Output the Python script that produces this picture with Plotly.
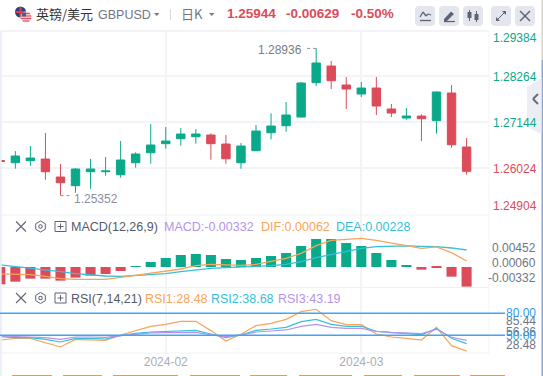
import plotly.graph_objects as go

W, H = 543, 376
idx = list(range(32))
opens = [1.26207,1.26153,1.26202,1.26243,1.25805,1.25593,1.25934,1.25934,1.25861,1.26153,1.26396,1.26616,1.26737,1.26786,1.26827,1.26608,1.26153,1.26445,1.26883,1.27054,1.27266,1.28101,1.28507,1.28045,1.27826,1.27972,1.27461,1.27241,1.27290,1.27176,1.27850,1.26535]
highs = [1.26267,1.26438,1.26560,1.26876,1.26121,1.26024,1.26243,1.26292,1.26681,1.26406,1.27095,1.27022,1.26998,1.26974,1.26869,1.26827,1.26633,1.27071,1.27356,1.27631,1.28118,1.28936,1.28629,1.28240,1.28118,1.28240,1.27582,1.27485,1.27331,1.27887,1.28045,1.26754]
lows = [1.26097,1.26007,1.26080,1.25739,1.25352,1.25423,1.25520,1.25836,1.25788,1.26031,1.26129,1.26494,1.26567,1.26616,1.26226,1.26129,1.26007,1.26438,1.26723,1.26908,1.27249,1.28021,1.27947,1.27461,1.27753,1.27314,1.27266,1.27200,1.26681,1.26859,1.26518,1.25861]
closes = [1.26182,1.26316,1.26267,1.25934,1.25666,1.26000,1.26000,1.25951,1.26219,1.26365,1.26584,1.26681,1.26852,1.26852,1.26616,1.26250,1.26560,1.26925,1.27047,1.27314,1.28094,1.28581,1.28150,1.27947,1.27972,1.27534,1.27363,1.27290,1.27224,1.27874,1.26591,1.25944]
hist = [-.00293,-.00248,-.00197,-.00197,-.00231,-.00180,-.00146,-.00118,-.00068,.00008,.00084,.00152,.00203,.00220,.00203,.00135,.00118,.00152,.00186,.00236,.00355,.00473,.00473,.00405,.00355,.00236,.00118,.00017,-.00045,-.00011,-.00163,-.00332]
dif = [-.00118,-.00124,-.00129,-.00158,-.00197,-.00208,-.00208,-.00208,-.00175,-.00141,-.00107,-.00079,-.00034,.00023,.00045,.00034,.00028,.00045,.00090,.00146,.00231,.00360,.00450,.00473,.00484,.00450,.00400,.00360,.00315,.00338,.00242,.00101]
dea = [.00034,.00006,-.00011,-.00039,-.00079,-.00113,-.00135,-.00152,-.00158,-.00146,-.00129,-.00113,-.00079,-.00051,-.00023,-.00011,0,.00006,.00023,.00045,.00090,.00158,.00214,.00270,.00315,.00343,.00355,.00355,.00349,.00343,.00321,.00287]
rsi1 = [43.6,45.9,45.9,40.0,34.1,44.5,44.1,43.2,50.5,56.4,62.3,65.0,69.1,69.1,56.4,42.3,51.4,63.2,66.4,71.8,82.3,85.5,70.0,64.5,64.5,51.8,47.7,45.9,43.6,60.9,35.9,28.48]
rsi2 = [48.2,46.8,46.8,44.5,40.9,45.9,45.9,45.0,49.5,52.7,54.5,55.5,56.8,56.8,51.8,46.8,50.5,56.8,58.6,60.9,68.6,71.8,65.0,62.3,62.3,55.5,53.6,52.7,50.5,59.5,45.9,38.68]
rsi3 = [49.1,48.2,48.2,46.8,44.5,47.7,47.7,47.3,49.5,51.4,53.2,53.6,54.1,54.1,50.5,48.2,50.5,54.5,55.9,57.3,62.3,65.0,60.9,59.5,59.5,55.5,54.1,53.6,52.3,58.2,47.3,43.19]
date_ticks = [11, 24]
date_labels = ["2024-02", "2024-03"]
price_grid = [1.28264, 1.27144, 1.26024]

GREEN, RED = "#0aa98a", "#dc4b59"
ORANGE, CYAN, PURPLE, BLUE = "#f5a55c", "#35bfd9", "#b294ea", "#3ea6f5"
GRAY, GLYPH, BTN, GRID = "#6f7585", "#5f6475", "#e4e6ee", "#f3f4f7"
FONT = "Liberation Sans, Arial, sans-serif"
CJK = "Noto Sans CJK SC, sans-serif"

def fx(p): return p / W
def fy(p): return 1 - p / H

fig = go.Figure()
fig.add_trace(go.Candlestick(x=idx, open=opens, high=highs, low=lows, close=closes, whiskerwidth=0,
    increasing=dict(line=dict(color=GREEN, width=1), fillcolor=GREEN),
    decreasing=dict(line=dict(color=RED, width=1), fillcolor=RED),
    xaxis="x", yaxis="y", hoverinfo="skip"))
fig.add_trace(go.Bar(x=idx, y=hist, marker=dict(color=[GREEN if v > 0 else RED for v in hist], line=dict(width=0)),
    xaxis="x", yaxis="y2", hoverinfo="skip"))
for vals, c in ((dea, CYAN), (dif, ORANGE)):
    fig.add_trace(go.Scatter(x=idx, y=vals, mode="lines", line=dict(color=c, width=1.3), xaxis="x", yaxis="y2", hoverinfo="skip"))
for vals, c in ((rsi1, ORANGE), (rsi2, CYAN), (rsi3, PURPLE)):
    fig.add_trace(go.Scatter(x=idx, y=vals, mode="lines", line=dict(color=c, width=1.2), xaxis="x", yaxis="y3", hoverinfo="skip"))

shapes, annos = [], []
def line(x0, y0, x1, y1, c=GLYPH, w=1, dash=None):
    shapes.append(dict(type="line", xref="paper", yref="paper", x0=fx(x0), x1=fx(x1), y0=fy(y0), y1=fy(y1),
                       line=dict(color=c, width=w, dash=dash or "solid")))
def rect(x0, y0, x1, y1, c):
    shapes.append(dict(type="rect", xref="paper", yref="paper", x0=fx(x0), x1=fx(x1), y0=fy(y0), y1=fy(y1),
                       fillcolor=c, line=dict(width=0)))
def poly(pts, c):
    d = "M" + " L".join(f"{fx(a):.5f},{fy(b):.5f}" for a, b in pts) + " Z"
    shapes.append(dict(type="path", xref="paper", yref="paper", path=d, fillcolor=c, line=dict(width=0)))
def circle(cx, cy, r, c):
    shapes.append(dict(type="circle", xref="paper", yref="paper", x0=fx(cx-r), x1=fx(cx+r), y0=fy(cy-r), y1=fy(cy+r),
                       fillcolor=c, line=dict(width=0)))
def text(x, y, s, c, size=12, anchor="left", bold=False, fam=FONT):
    annos.append(dict(xref="paper", yref="paper", x=fx(x), y=fy(y), text=f"<b>{s}</b>" if bold else s, showarrow=False,
                      xanchor=anchor, yanchor="middle", xshift=0, borderpad=0,
                      font=dict(family=fam, size=size, color=c)))

# frame
line(0, 31, 489, 31, "#f0f1f5", 1.5)
line(0, 215, 489, 215, "#eef0f4", 1)
line(0, 287.5, 489, 287.5, "#eef0f4", 1)
line(0, 353, 489, 353, "#eef0f4", 1)
line(489, 31, 489, 353, "#f3f4f7", 1)
rect(0, 31, 1.7, H, "#e9edf5")
rect(541.5, 0, 543, 60, "#d9d2c8")
rect(541.5, 60, 543, H, "#8ea6cc")

# collapse tab
poly([(527, 87), (541.5, 78), (541.5, 134), (527, 127)], "#eceef3")
line(538, 94, 533, 99, "#666c7a", 2)
line(533, 99, 538, 104, "#666c7a", 2)

# footer strip
for a, b in [(12,52),(63,102),(113,178),(190,240),(250,287),(299,352),(364,402),(414,460),(470,505)]:
    rect(a, 375, b, 376, "#dca23c")

# flag icon
circle(20.5, 12, 5.5, "#2f3f7c")
line(15.5, 12, 25.5, 12, "#d8404c", 2)
line(20.5, 7, 20.5, 17, "#d8404c", 2)
circle(26, 17, 5.5, "#f4c6ca")
for yy, half in ((13.5, 3.8), (16, 5.2), (18.5, 5.2), (21, 3.2)):
    line(26 - half, yy, 26 + half, yy, "#e0505c", 1)
rect(22, 12.5, 26, 16.5, "#4c5a94")

# header
text(35, 13.5, "英镑/美元", "#333333", 13, fam=CJK)
text(97, 14.5, "GBPUSD", GRAY, 12.5)
poly([(154, 13), (159.5, 13), (156.7, 16)], "#777c8a")
line(170.5, 9, 170.5, 20, "#d5d8e0", 1)
text(180, 13.5, "日K", GRAY, 13, fam=CJK)
poly([(209, 13), (214.5, 13), (211.7, 16)], "#777c8a")
text(226, 13.5, "1.25944", RED, 13.5, bold=True)
text(285, 13.5, "-0.00629", RED, 13.5, bold=True)
text(350, 13.5, "-0.50%", RED, 13.5, bold=True)

# toolbar buttons
for x0 in (415, 439, 463, 491, 515):
    x1, r = x0 + 20, 4
    y0, y1 = 6, 26
    shapes.append(dict(type="path", xref="paper", yref="paper", fillcolor=BTN, line=dict(width=0),
        path=(f"M{fx(x0+r)},{fy(y0)} L{fx(x1-r)},{fy(y0)} Q{fx(x1)},{fy(y0)} {fx(x1)},{fy(y0+r)} "
              f"L{fx(x1)},{fy(y1-r)} Q{fx(x1)},{fy(y1)} {fx(x1-r)},{fy(y1)} L{fx(x0+r)},{fy(y1)} "
              f"Q{fx(x0)},{fy(y1)} {fx(x0)},{fy(y1-r)} L{fx(x0)},{fy(y0+r)} Q{fx(x0)},{fy(y0)} {fx(x0+r)},{fy(y0)} Z")))
for a, b in (((420, 17), (423, 12)), ((423, 12), (426, 16)), ((426, 16), (428, 14)), ((428, 14), (431, 15))):
    line(*a, *b, GLYPH, 1.3)
line(420, 20.5, 431, 20.5, GLYPH, 1.3)
poly([(444, 19), (451, 11.5), (454, 14), (447, 21), (444, 21)], GLYPH)
line(444, 21.5, 455, 21.5, GLYPH, 1.3)
line(469.5, 10, 469.5, 21, GLYPH, 1); rect(467.5, 12, 471.5, 18, GLYPH)
line(476.5, 11, 476.5, 22, GLYPH, 1); rect(474.5, 14, 478.5, 20, GLYPH)
line(496.5, 20.5, 505.5, 11.5, GLYPH, 1)
poly([(502, 11), (506, 11), (506, 15)], GLYPH)
poly([(496, 17), (496, 21), (500, 21)], GLYPH)
line(520, 11, 530, 21, GLYPH, 1.4)
line(530, 11, 520, 21, GLYPH, 1.4)

# indicator header icons
for cy in (226.5, 298):
    line(16, cy-5, 26, cy+5, GLYPH, 1.1); line(26, cy-5, 16, cy+5, GLYPH, 1.1)
    pts = [(40.5, cy-5.5), (45.3, cy-2.7), (45.3, cy+2.7), (40.5, cy+5.5), (35.7, cy+2.7), (35.7, cy-2.7), (40.5, cy-5.5)]
    for p, q in zip(pts, pts[1:]):
        line(*p, *q, GLYPH, 1)
    circle(40.5, cy, 2.2, GLYPH); circle(40.5, cy, 1.2, "#ffffff")
    for p, q in (((55, cy-5), (66, cy-5)), ((66, cy-5), (66, cy+5)), ((66, cy+5), (55, cy+5)), ((55, cy+5), (55, cy-5)),
                 ((57.5, cy), (63.5, cy)), ((60.5, cy-3), (60.5, cy+3))):
        line(*p, *q, GLYPH, 1)
text(70, 226.5, "MACD(12,26,9)", "#555a68", 12.5)
text(163, 226.5, "MACD:-0.00332", PURPLE, 12.5)
text(260, 226.5, "DIF:0.00062", ORANGE, 12.5)
text(335, 226.5, "DEA:0.00228", CYAN, 12.5)
text(70, 298.5, "RSI(7,14,21)", "#555a68", 12.5)
text(144, 298.5, "RSI1:28.48", ORANGE, 12.5)
text(210, 298.5, "RSI2:38.68", CYAN, 12.5)
text(277, 298.5, "RSI3:43.19", PURPLE, 12.5)

# right-hand labels
for y, s, c in ((38.3, "1.29384", GREEN), (77, "1.28264", GREEN), (123, "1.27144", GREEN), (169, "1.26024", RED), (205.7, "1.24904", RED)):
    text(538, y, s, c, 12, "right")
for y, s in ((248.3, "0.00452"), (263.3, "0.00060"), (278.3, "-0.00332")):
    text(537, y, s, GRAY, 12, "right")
for y, s in ((321, "85.44"), (331.7, "56.86"), (344.5, "28.48")):
    text(537, y, s, GRAY, 12, "right")
for y, s in ((313.3, "80.00"), (335.8, "50.00")):
    text(537, y, s, "#2f9bef", 12, "right")
for v in (80, 50):
    shapes.append(dict(type="line", xref="paper", yref="y3", x0=0, x1=fx(505), y0=v, y1=v, line=dict(color=BLUE, width=1.5)))

# high/low callouts
shapes.append(dict(type="line", xref="x", yref="y", x0=20.4, x1=21, y0=highs[21], y1=highs[21], line=dict(color="#8a8f9c", width=1, dash="dot")))
shapes.append(dict(type="line", xref="x", yref="y", x0=4, x1=4.7, y0=lows[4], y1=lows[4], line=dict(color="#8a8f9c", width=1, dash="dot")))
text(303, 50.5, "1.28936", "#777b88", 12, "right")
text(73, 198.7, "1.25352", "#8a8f9c", 12)

fig.update_layout(
    width=W, height=H, autosize=False, margin=dict(l=0, r=0, t=0, b=0), showlegend=False,
    paper_bgcolor="#ffffff", plot_bgcolor="#ffffff", bargap=0.33, boxgap=0.2,
    shapes=shapes, annotations=annos,
    xaxis=dict(domain=[0, fx(489)], range=[-0.02, 32.49], anchor="y3", rangeslider=dict(visible=False),
               tickmode="array", tickvals=date_ticks, ticktext=date_labels, showgrid=True, gridcolor=GRID, gridwidth=1.5,
               zeroline=False, showline=False, ticks="", tickfont=dict(family=FONT, size=12, color="#a9adb8")),
    yaxis=dict(domain=[fy(215), fy(31)], range=[1.24880, 1.29360], tickmode="array", tickvals=price_grid, showticklabels=False,
               showgrid=True, gridcolor=GRID, gridwidth=1.5, zeroline=False, ticks=""),
    yaxis2=dict(domain=[fy(287), fy(215)], range=[-.00338, .00878], showticklabels=False, showgrid=False, zeroline=False, ticks=""),
    yaxis3=dict(domain=[fy(353), fy(288)], range=[25.9, 114.5], showticklabels=False, showgrid=False, zeroline=False, ticks=""),
)
fig.write_html("out.html", config=dict(displayModeBar=False),
               post_script="document.body.style.margin='0';document.body.style.overflow='hidden';")
